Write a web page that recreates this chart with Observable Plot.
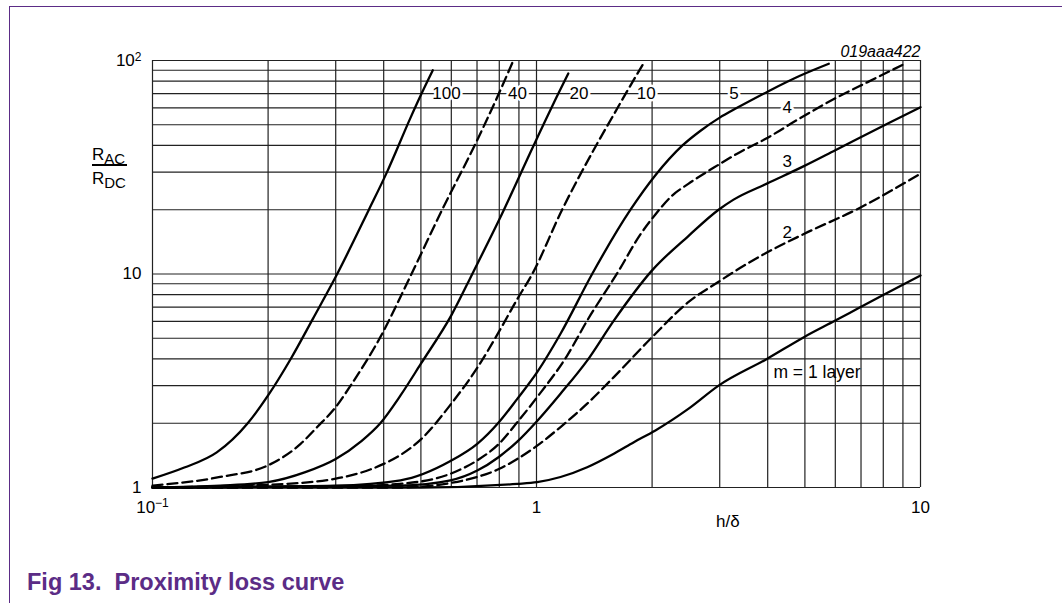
<!DOCTYPE html>
<html>
<head>
<meta charset="utf-8">
<script src="https://cdn.jsdelivr.net/npm/d3@7"></script>
<script src="https://cdn.jsdelivr.net/npm/@observablehq/plot@0.6"></script>
<style>
  body { margin: 0; background: white; }
  #page { position: relative; width: 1062px; height: 603px; overflow: hidden; background: white;
          font-family: "Liberation Sans", Arial, sans-serif; color: black; }
  #border { position: absolute; left: 9px; top: 6px; right: -5px; bottom: -5px;
            border-top: 1px solid #5b2c86; border-left: 1px solid #5b2c86; }
  #chart { position: absolute; left: 0; top: 0; }
  .frac { position: absolute; font-size: 17px; line-height: 17px; white-space: nowrap; }
  .frac span { font-size: 15px; position: relative; top: 4px; }
  #bar { position: absolute; left: 92px; top: 164px; width: 35px; height: 1.5px; background: black; }
  #caption { position: absolute; left: 27px; top: 571px; font-size: 23.5px; line-height: 23.5px;
             font-weight: bold; color: #5b2c86; white-space: pre; }
</style>
</head>
<body>
<div id="page">
  <div id="border"></div>
  <div id="chart"></div>
  <div class="frac" style="left:92px; top:145.6px;">R<span>AC</span></div>
  <div id="bar"></div>
  <div class="frac" style="left:92px; top:169.6px;">R<span>DC</span></div>
  <div id="caption">Fig 13.  Proximity loss curve</div>
</div>
<script>
// ---- axis ticks and grid ----
const xGrid = [0.1,0.2,0.3,0.4,0.5,0.6,0.7,0.8,0.9,1,2,3,4,5,6,7,8,9,10];
const yGrid = [1,2,3,4,5,6,7,8,9,10,20,30,40,50,60,70,80,90,100];
const xTicks = [0.1, 1, 10];
const xTickLabels = ["10\u207B\u00B9", "1", "10"];
const yTicks = [1, 10, 100];
const yTickLabels = ["1", "10", "10\u00B2"];

// ---- curves: [h/δ, RAC/RDC] ----
const m1 = [[0.1,1.0],[0.5,1.0],[0.891,1.04],[1.004,1.06],[1.155,1.12],[1.355,1.245],[1.59,1.44],[1.793,1.63],[2.04,1.85],[2.49,2.34],[2.98,3.0],[3.98,4.0],[4.97,5.06],[6.0,6.05],[6.98,7.0],[7.95,7.93],[10,9.84]];
const m2 = [[0.1,1.0],[0.44,1.0],[0.597,1.05],[0.701,1.12],[0.798,1.22],[0.891,1.36],[1.004,1.57],[1.155,1.92],[1.355,2.47],[1.59,3.29],[2.0,5.06],[2.49,7.4],[2.98,9.2],[3.2,10],[3.98,12.6],[4.97,15.4],[6.98,20.5],[8.27,24.2],[10,29.5]];
const m3 = [[0.1,1.0],[0.44,1.02],[0.597,1.08],[0.701,1.2],[0.798,1.39],[0.891,1.64],[1.004,2.05],[1.155,2.75],[1.355,3.93],[1.59,6.05],[2.0,10.4],[2.49,15.1],[2.98,20],[3.26,22.3],[3.98,26.5],[4.97,32],[6.0,38],[8.27,51],[10,60.4]];
const m4 = [[0.1,1.0],[0.3,1.01],[0.44,1.04],[0.597,1.16],[0.701,1.34],[0.798,1.6],[0.891,2.02],[1.004,2.65],[1.202,4.15],[1.355,6.05],[1.64,10.4],[1.85,15.0],[2.04,19.0],[2.25,23.2],[2.49,26.5],[2.98,32.5],[3.33,36.6],[4.0,43.5],[4.8,53],[5.95,66],[7.26,79],[9.05,96]];
const m5 = [[0.1,1.0],[0.3,1.02],[0.4425,1.08],[0.597,1.33],[0.701,1.6],[0.798,2.02],[0.891,2.6],[1.004,3.47],[1.155,5.25],[1.396,10],[1.757,20],[2.04,29],[2.4,40],[2.68,47],[3.0,54],[3.33,60],[4.03,72],[4.87,85],[5.77,96.5]];
const m10 = [[0.1,1.0],[0.2,1.03],[0.3,1.1],[0.4,1.29],[0.4425,1.42],[0.5,1.68],[0.6,2.47],[0.7,3.62],[0.8,5.4],[0.89,7.6],[0.975,10],[1.166,20],[1.43,40],[1.6,57],[1.7,69],[1.9,97]];
const m20 = [[0.1,1.0],[0.15,1.02],[0.2,1.06],[0.25,1.18],[0.3,1.36],[0.35,1.65],[0.392,2.0],[0.4425,2.7],[0.5,3.8],[0.6,6.4],[0.684,10.2],[0.8,18],[0.983,40],[1.14,70],[1.21,87]];
const m40 = [[0.1,1.02],[0.15,1.12],[0.2,1.27],[0.243,1.6],[0.2685,1.92],[0.3,2.38],[0.328,3.0],[0.392,5.06],[0.47,9.8],[0.568,20],[0.69,40],[0.798,70],[0.865,97.5]];
const m100 = [[0.1,1.1],[0.121,1.24],[0.147,1.46],[0.177,2.0],[0.2,2.7],[0.229,4.0],[0.262,6.2],[0.3,9.7],[0.366,20],[0.408,30],[0.47,54],[0.502,70],[0.537,90]];

const solidSeries = {"1": m1, "3": m3, "5": m5, "20": m20, "100": m100};
const dashedSeries = {"2": m2, "4": m4, "10": m10, "40": m40};

// ---- curve labels ----
const lineLabels = ["100", "40", "20", "10", "5", "4"];
const lineLabelX = [0.583, 0.892, 1.29, 1.93, 3.27, 4.5];
const lineLabelY = [70, 70, 70, 70, 70, 60];
const freeLabels = ["3", "2"];
const freeLabelX = [4.5, 4.5];
const freeLabelY = [33.6, 15.7];
const layerLabel = "m = 1 layer";
const layerLabelX = 4.14;
const layerLabelY = 3.47;
const xAxisTitle = "h/\u03B4";
const xAxisTitleX = 3.15;
const codeText = "019aaa422";

function toRows(series) {
  const rows = [];
  for (const [m, pts] of Object.entries(series)) for (const [x, y] of pts) rows.push({m, x, y});
  return rows;
}
const solidRows = toRows(solidSeries);
const dashedRows = toRows(dashedSeries);
const onLine = lineLabels.map((t, i) => ({t, x: lineLabelX[i], y: lineLabelY[i]}));
const free = freeLabels.map((t, i) => ({t, x: freeLabelX[i], y: freeLabelY[i]}));

const chart = Plot.plot({
  width: 1062,
  height: 545,
  marginLeft: 152,
  marginRight: 142,
  marginTop: 60,
  marginBottom: 58,
  style: {fontFamily: "'Liberation Sans', Arial, sans-serif", fontSize: "17px", color: "black", background: "transparent"},
  x: {type: "log", domain: [0.1, 10], ticks: xTicks, tickFormat: d => xTickLabels[xTicks.indexOf(d)], tickSize: 0, tickPadding: 13, label: null},
  y: {type: "log", domain: [1, 100], ticks: yTicks, tickFormat: d => yTickLabels[yTicks.indexOf(d)], tickSize: 0, tickPadding: 11, label: null},
  marks: [
    Plot.ruleX(xGrid, {stroke: "#222", strokeWidth: 1.2}),
    Plot.ruleY(yGrid, {stroke: "#222", strokeWidth: 1.2}),
    Plot.line(solidRows, {x: "x", y: "y", z: "m", curve: "monotone-x", stroke: "black", strokeWidth: 2.3}),
    Plot.line(dashedRows, {x: "x", y: "y", z: "m", curve: "monotone-x", stroke: "black", strokeWidth: 2.3, strokeDasharray: "10,5"}),
    Plot.text(onLine, {x: "x", y: "y", text: "t", fill: "white", stroke: "white", strokeWidth: 5, fontSize: 17}),
    Plot.text(onLine, {x: "x", y: "y", text: "t", fill: "black", fontSize: 17}),
    Plot.text(free, {x: "x", y: "y", text: "t", fill: "black", fontSize: 17}),
    Plot.text([layerLabel], {x: () => layerLabelX, y: () => layerLabelY, text: d => d, textAnchor: "start", fill: "black", fontSize: 17.5}),
    Plot.text([xAxisTitle], {x: () => xAxisTitleX, frameAnchor: "bottom", dy: 39, text: d => d, fill: "black", fontSize: 17}),
    Plot.text([codeText], {frameAnchor: "top-right", dy: -15, text: d => d, textAnchor: "end", fontStyle: "italic", fill: "black", fontSize: 16})
  ]
});

// render tick-label exponents as real superscripts
const supMap = {"\u00B2": "2", "\u207B\u00B9": "\u22121"};
d3.select(chart).selectAll("text").each(function () {
  const s = this.textContent;
  for (const [u, plain] of Object.entries(supMap)) {
    if (s.endsWith(u) && s.length > u.length) {
      const base = s.slice(0, s.length - u.length);
      const sel = d3.select(this);
      sel.text(base);
      sel.append("tspan").attr("dy", "-0.45em").attr("font-size", "12px").text(plain);
    }
  }
});
document.getElementById("chart").appendChild(chart);
</script>
</body>
</html>
